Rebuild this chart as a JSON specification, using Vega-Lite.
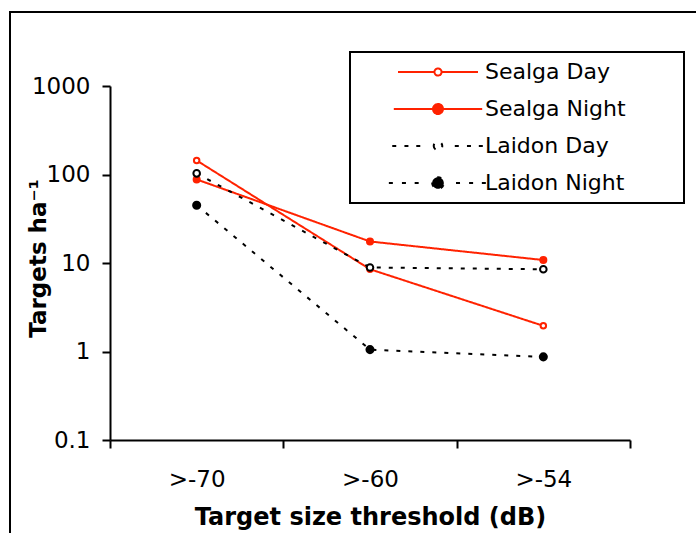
{
  "$schema": "https://vega.github.io/schema/vega-lite/v6.json",
  "width": 696,
  "height": 531,
  "autosize": {"type": "none"},
  "padding": {"left": 10, "top": 12, "right": -10, "bottom": -10},
  "background": "white",
  "config": {
    "font": "DejaVu Sans",
    "view": {"stroke": "black", "strokeWidth": 2, "fill": "white"},
    "axis": {
      "grid": false,
      "domainColor": "black",
      "domainWidth": 2,
      "tickColor": "black",
      "tickWidth": 2,
      "tickSize": 8,
      "labelColor": "black",
      "labelFont": "DejaVu Sans",
      "labelFontSize": 23,
      "titleColor": "black",
      "titleFont": "DejaVu Sans",
      "titleFontWeight": "bold",
      "titleFontSize": 24
    },
    "legend": {
      "orient": "none",
      "legendX": 340,
      "legendY": 40,
      "padding": 9,
      "strokeColor": "black",
      "strokeWidth": 2,
      "fillColor": "white",
      "rowPadding": 15,
      "symbolOffset": 68,
      "symbolOpacity": 1,
      "symbolStrokeWidth": 2,
      "labelOffset": 36,
      "labelFont": "DejaVu Sans",
      "labelFontSize": 22,
      "labelColor": "black",
      "labelLimit": 400
    }
  },
  "data": {
    "values": [
      {"threshold": ">-70", "series": "Sealga Day", "value": 144},
      {"threshold": ">-60", "series": "Sealga Day", "value": 8.5},
      {"threshold": ">-54", "series": "Sealga Day", "value": 1.95},
      {"threshold": ">-70", "series": "Sealga Night", "value": 88},
      {"threshold": ">-60", "series": "Sealga Night", "value": 17.5},
      {"threshold": ">-54", "series": "Sealga Night", "value": 10.8},
      {"threshold": ">-70", "series": "Laidon Day", "value": 103},
      {"threshold": ">-60", "series": "Laidon Day", "value": 8.9},
      {"threshold": ">-54", "series": "Laidon Day", "value": 8.5},
      {"threshold": ">-70", "series": "Laidon Night", "value": 45},
      {"threshold": ">-60", "series": "Laidon Night", "value": 1.05},
      {"threshold": ">-54", "series": "Laidon Night", "value": 0.87}
    ]
  },
  "encoding": {
    "x": {
      "field": "threshold",
      "type": "ordinal",
      "sort": [">-70", ">-60", ">-54"],
      "scale": {"type": "band", "range": [100, 620], "paddingInner": 0, "paddingOuter": 0},
      "axis": {
        "offset": -103,
        "labelAngle": 0,
        "tickBand": "extent",
        "labelPadding": 20,
        "title": "Target size threshold (dB)",
        "titleX": 360,
        "titleY": 77,
        "titleBaseline": "middle"
      }
    },
    "y": {
      "field": "value",
      "type": "quantitative",
      "scale": {"type": "log", "domain": [0.1, 1000], "range": [428, 74]},
      "axis": {
        "offset": -100,
        "values": [0.1, 1, 10, 100, 1000],
        "format": "~g",
        "labelPadding": 12,
        "title": "Targets ha⁻¹",
        "titleFontSize": 23,
        "titleX": -72,
        "titleY": 246,
        "titleAngle": -90,
        "titleAlign": "center",
        "titleBaseline": "middle"
      }
    }
  },
  "layer": [
    {
      "description": "Key carrier: invisible symbols whose shape scale holds the line-and-marker glyphs shown in the legend box.",
      "mark": {"type": "point", "opacity": 0},
      "encoding": {
        "shape": {
          "field": "series",
          "type": "nominal",
          "scale": {
            "domain": ["Sealga Day", "Sealga Night", "Laidon Day", "Laidon Night"],
            "range": [
              "M-14.6,0H-1.3M1.3,0H14.6M-1.3,0A1.3,1.3,0,1,0,1.3,0A1.3,1.3,0,1,0,-1.3,0Z",
              "M-14.6,0H14.6M-1.65,0A1.65,1.65,0,1,0,1.65,0A1.65,1.65,0,1,0,-1.65,0Z",
              "M-13.9,0H-12.4M-10.2,0H-8.8M-6.6,0H-5.1M5.1,0H6.6M8.8,0H10.2M12.4,0H13.9M-1.3,0A1.3,1.3,0,1,0,1.3,0A1.3,1.3,0,1,0,-1.3,0Z",
              "M-13.9,0H-12.4M-10.2,0H-8.8M-6.6,0H-5.1M5.1,0H6.6M8.8,0H10.2M12.4,0H13.9M-1.65,0A1.65,1.65,0,1,0,1.65,0A1.65,1.65,0,1,0,-1.65,0Z"
            ]
          },
          "legend": {"title": null, "labelExpr": "datum.label + '       \u200b'"}
        },
        "stroke": {
          "field": "series",
          "type": "nominal",
          "legend": {"title": null, "labelExpr": "datum.label + '       \u200b'"}
        },
        "fill": {
          "field": "series",
          "type": "nominal",
          "legend": {"title": null, "labelExpr": "datum.label + '       \u200b'"}
        }
      }
    },
    {
      "mark": {"type": "line", "strokeWidth": 2},
      "encoding": {
        "stroke": {
          "field": "series",
          "type": "nominal",
          "scale": {
            "domain": ["Sealga Day", "Sealga Night", "Laidon Day", "Laidon Night"],
            "range": ["#FF2200", "#FF2200", "black", "black"]
          },
          "legend": null
        },
        "strokeDash": {
          "field": "series",
          "type": "nominal",
          "scale": {
            "domain": ["Sealga Day", "Sealga Night", "Laidon Day", "Laidon Night"],
            "range": [[1, 0], [1, 0], [4, 8], [4, 8]]
          },
          "legend": null
        }
      }
    },
    {
      "mark": {"type": "point", "shape": "circle", "opacity": 1, "strokeWidth": 2},
      "encoding": {
        "stroke": {"field": "series", "type": "nominal", "legend": null},
        "fill": {
          "field": "series",
          "type": "nominal",
          "scale": {
            "domain": ["Sealga Day", "Sealga Night", "Laidon Day", "Laidon Night"],
            "range": ["white", "#FF2200", "white", "black"]
          },
          "legend": null
        },
        "size": {
          "field": "series",
          "type": "nominal",
          "scale": {
            "domain": ["Sealga Day", "Sealga Night", "Laidon Day", "Laidon Night"],
            "range": [30, 50, 30, 50]
          },
          "legend": null
        }
      }
    }
  ]
}
